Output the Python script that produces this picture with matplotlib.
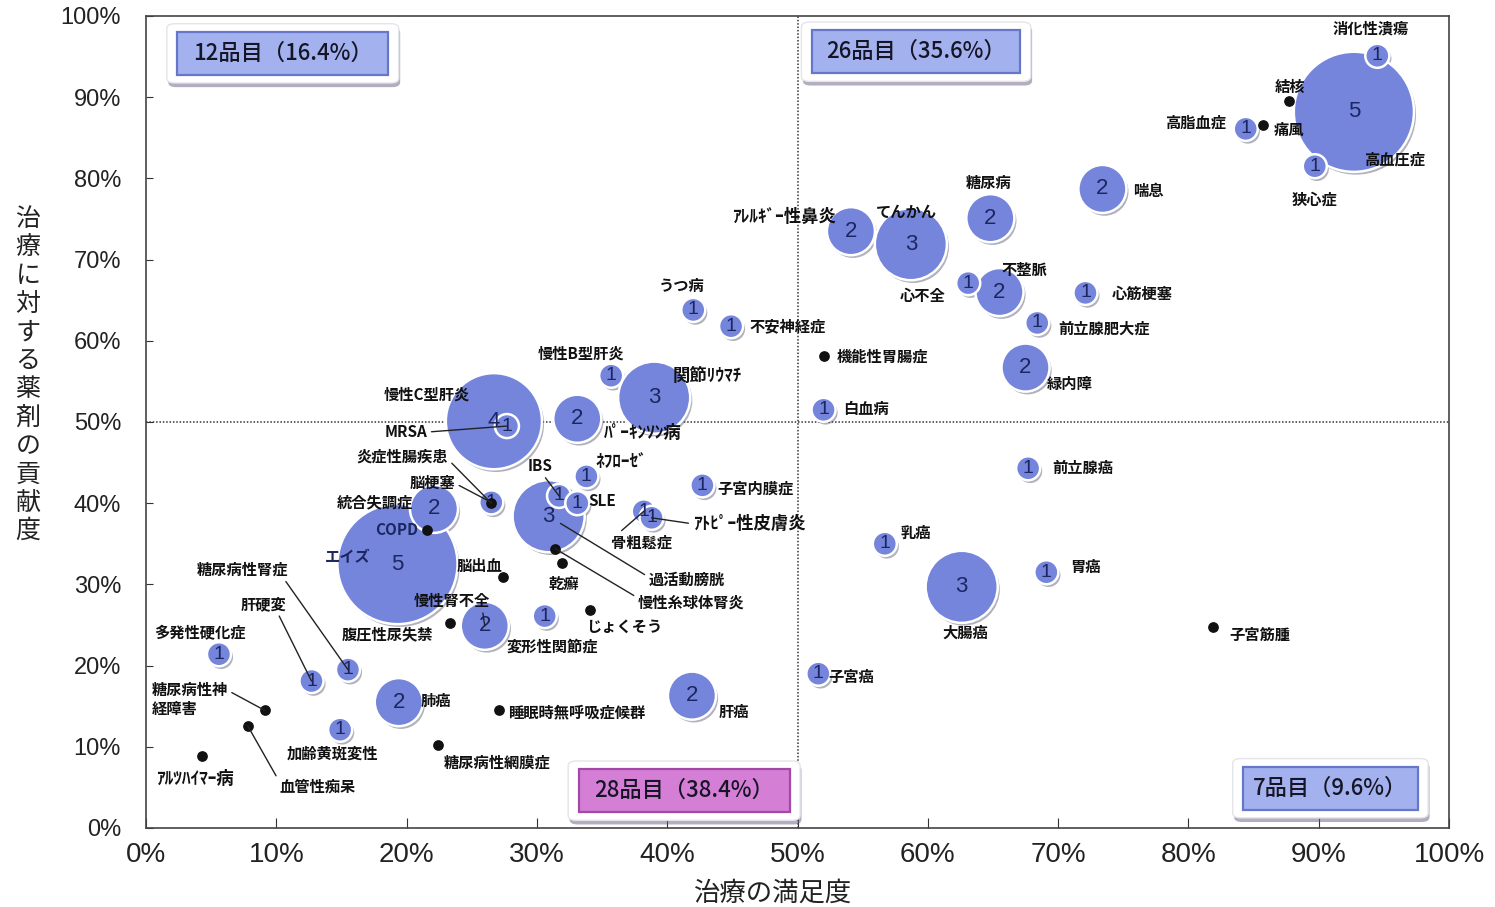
import matplotlib
matplotlib.use('Agg')
import matplotlib.pyplot as plt
import matplotlib.patheffects as pe
from matplotlib.patches import FancyBboxPatch

plt.rcParams['font.family'] = ['Noto Sans CJK JP', 'DejaVu Sans']

# ---------------- data ----------------
names = ['消化性潰瘍', '高血圧症', '結核', '高脂血症', '痛風', '狭心症', '喘息', '糖尿病',
         'ｱﾚﾙｷﾞｰ性鼻炎', 'てんかん', '心不全', '不整脈', '心筋梗塞', '前立腺肥大症',
         '機能性胃腸症', '緑内障', '白血病', 'うつ病', '不安神経症', '慢性B型肝炎',
         '関節ﾘｳﾏﾁ', 'ﾊﾟｰｷﾝｿﾝ病', '慢性C型肝炎', 'MRSA', '脳梗塞', '炎症性腸疾患',
         '統合失調症', 'COPD', 'エイズ', '脳出血', '慢性腎不全', '腹圧性尿失禁',
         '糖尿病性腎症', '肝硬変', '多発性硬化症', '糖尿病性神\n経障害', '血管性痴呆',
         'ｱﾙﾂﾊｲﾏｰ病', '肺癌', '加齢黄斑変性', '睡眠時無呼吸症候群', '糖尿病性網膜症',
         '肝癌', '変形性関節症', 'じょくそう', '乾癬', '慢性糸球体腎炎', '過活動膀胱',
         'IBS', 'SLE', 'ﾈﾌﾛｰｾﾞ', '骨粗鬆症', 'ｱﾄﾋﾟｰ性皮膚炎', '子宮内膜症',
         '前立腺癌', '乳癌', '胃癌', '大腸癌', '子宮筋腫', '子宮癌']

satisfaction = [94.5, 92.7, 87.7, 84.4, 85.7, 89.7, 73.4, 64.8,
                54.1, 58.7, 63.1, 65.5, 72.1, 68.4,
                52.0, 67.5, 52.0, 42.0, 44.9, 35.7,
                39.0, 33.1, 26.7, 27.7, 26.5, 26.5,
                22.1, 21.6, 19.3, 27.4, 26.0, 23.3,
                15.5, 12.7, 5.6, 9.1, 7.8,
                4.3, 19.4, 14.9, 27.1, 22.4,
                41.9, 30.6, 34.1, 31.9, 31.4, 30.9,
                31.7, 33.1, 33.8, 38.2, 38.8, 42.7,
                67.7, 56.7, 69.1, 62.6, 81.9, 51.6]

contribution = [95.1, 88.2, 89.5, 86.1, 86.6, 81.5, 78.7, 75.1,
                73.5, 71.9, 67.1, 66.0, 65.9, 62.2,
                58.1, 56.7, 51.5, 63.8, 61.8, 55.7,
                53.0, 50.4, 50.1, 49.5, 40.1, 40.0,
                39.3, 36.7, 32.5, 30.9, 24.9, 25.2,
                19.5, 18.1, 21.4, 14.5, 12.6,
                8.9, 15.5, 12.1, 14.5, 10.2,
                16.3, 26.1, 26.8, 32.6, 34.4, 38.4,
                40.9, 40.0, 43.3, 39.0, 38.2, 42.2,
                44.3, 35.0, 31.5, 29.7, 24.8, 19.0]

# number of drugs (0 = no drug, drawn as a black dot)
counts = [1, 5, 0, 1, 0, 1, 2, 2,
          2, 3, 1, 2, 1, 1,
          0, 2, 1, 1, 1, 1,
          3, 2, 4, 1, 1, 0,
          2, 0, 5, 0, 2, 0,
          1, 1, 1, 0, 0,
          0, 2, 1, 0, 0,
          2, 1, 0, 0, 0, 3,
          1, 1, 1, 1, 1, 1,
          1, 1, 1, 3, 0, 1]

quad_texts = ['12品目（16.4%）', '26品目（35.6%）', '28品目（38.4%）', '7品目（9.6%）']
x_ticks = [0, 10, 20, 30, 40, 50, 60, 70, 80, 90, 100]
y_ticks = [0, 10, 20, 30, 40, 50, 60, 70, 80, 90, 100]

# ---------------- layout (label placement in pixels) ----------------
# (dx, dy, ha, relpos for leader line or None, shrinkB)
label_layout = [
    (-7, 27, 'center', None, 0), (41, -48, 'center', None, 0), (1, 14, 'center', None, 0),
    (-20, 6, 'right', None, 0), (11, -5, 'left', None, 0), (0, -33, 'center', None, 0),
    (31, -2, 'left', None, 0), (-2, 35, 'center', None, 0),
    (-15, 14, 'right', None, 0), (-4, 32, 'center', None, 0), (-46, -13, 'center', None, 0),
    (25, 22, 'center', None, 0), (26, -1, 'left', None, 0), (21, -6, 'left', None, 0),
    (13, 0, 'left', None, 0), (21, -16, 'left', None, 0), (20, 1, 'left', None, 0),
    (-12, 24, 'center', None, 0), (18, 0, 'left', None, 0), (-30, 22, 'center', None, 0),
    (53, 22, 'center', None, 0), (65, -14, 'center', None, 0), (-67, 27, 'center', None, 0),
    (-101, -6, 'center', (1, 0.5), 0), (-59, 19, 'center', (1, 0.5), 0),
    (-89, 47, 'center', (1, 0.3), 0),
    (-59, 7, 'center', None, 0), (-31, 0, 'center', None, 0), (-50, 7, 'center', None, 0),
    (-24, 11, 'center', None, 0), (-33, 25, 'center', (0.9, 0), 0), (-62, -11, 'center', None, 0),
    (-106, 100, 'center', (0.95, 0), 0), (-48, 77, 'center', (0.8, 0), 0),
    (-19, 22, 'center', None, 0), (-113, 11, 'left', (1, 0.75), 0), (70, -61, 'center', (0, 0.8), 0),
    (-7, -23, 'center', None, 0), (22, 1, 'left', None, 0), (-8, -24, 'center', None, 0),
    (9, -2, 'left', None, 0), (59, -17, 'center', None, 0),
    (42, -16, 'center', None, 0), (8, -31, 'center', None, 0), (34, -16, 'center', None, 0),
    (2, -21, 'center', None, 0), (136, -54, 'center', (0, 0.8), 0), (138, -64, 'center', (0, 0.7), 10),
    (-19, 30, 'center', (0.6, 0), 0), (25, 2, 'center', None, 0), (35, 14, 'center', None, 0),
    (-2, -31, 'center', (0.1, 1), 0), (41, -6, 'left', (0, 0.5), 0), (15, -3, 'left', None, 0),
    (24, 0, 'left', None, 0), (16, 11, 'left', None, 0), (24, 5, 'left', None, 0),
    (4, -46, 'center', None, 0), (16, -8, 'left', None, 0), (10, -3, 'left', None, 0),
]

BUBBLE = '#7585dc'
NUM_COLOR = '#1c2660'

fig = plt.figure(figsize=(14.95, 9.07), dpi=100)
ax = fig.add_axes([146 / 1495, 79 / 907, 1303 / 1495, 812 / 907])
ax.set_xlim(0, 100)
ax.set_ylim(0, 100)

for s in ax.spines.values():
    s.set_color('#444444')
    s.set_linewidth(1.2)

# quadrant dividers
ax.axhline(50, color='#333333', lw=1.1, ls=(0, (1, 1.2)), zorder=1)
ax.axvline(50, color='#333333', lw=1.1, ls=(0, (1, 1.2)), zorder=1)

# bubbles (bigger first)
order = sorted(range(len(names)), key=lambda i: -counts[i])
bub = [i for i in order if counts[i] > 0]
shadow = [pe.SimplePatchShadow(offset=(1.5, -2), shadow_rgbFace='#555570', alpha=0.45), pe.Normal()]
ax.scatter([satisfaction[i] for i in bub], [contribution[i] for i in bub],
           s=[(17.3 * counts[i]) ** 2 for i in bub], c=BUBBLE, edgecolors='white',
           linewidths=1.8, zorder=3, path_effects=shadow)
for i in bub:
    ax.text(satisfaction[i], contribution[i], str(counts[i]), ha='center', va='center',
            fontsize=14 if counts[i] == 1 else 16, color=NUM_COLOR, zorder=4,
            family=['Liberation Sans', 'DejaVu Sans'])

dots = [i for i in range(len(names)) if counts[i] == 0]
ax.scatter([satisfaction[i] for i in dots], [contribution[i] for i in dots],
           s=45, c='#111111', zorder=5)


def has_halfwidth(t):
    return any('\uff61' <= ch <= '\uff9f' for ch in t)


# labels
for i, name in enumerate(names):
    dx, dy, ha, relpos, shrinkB = label_layout[i]
    color = NUM_COLOR if name in ('COPD', 'エイズ') else '#111111'
    fs = 12.5 if has_halfwidth(name) else 11
    kw = dict(xy=(satisfaction[i], contribution[i]), xytext=(dx, dy), textcoords='offset pixels',
              ha=ha, va='center', fontsize=fs, fontweight='bold', color=color, zorder=6,
              linespacing=1.25)
    if relpos is not None:
        kw['arrowprops'] = dict(arrowstyle='-', color='#222222', lw=1.0, relpos=relpos,
                                shrinkA=1, shrinkB=shrinkB)
    ax.annotate(name, **kw)

# quadrant count boxes
quad_centers = [(10.5, 95.4), (59.1, 95.6), (41.3, 4.6), (90.9, 4.9)]
quad_widths = [16.2, 16.0, 16.2, 13.4]
quad_fill = ['#a3b2ee', '#a3b2ee', '#d47ed6', '#a3b2ee']
quad_edge = ['#6676c8', '#6676c8', '#a448a8', '#6676c8']
for (cx, cy), w, fc, ec, t in zip(quad_centers, quad_widths, quad_fill, quad_edge, quad_texts):
    h = 5.3
    outer = FancyBboxPatch((cx - w / 2 - 0.8, cy - h / 2 - 1.0), w + 1.6, h + 2.0,
                           boxstyle='round,pad=0,rounding_size=0.6', fc='white', ec='#e4e4ea',
                           lw=1, zorder=7,
                           path_effects=[pe.SimplePatchShadow(offset=(1, -3), shadow_rgbFace='#6a5a80',
                                                              alpha=0.5), pe.Normal()])
    ax.add_patch(outer)
    inner = FancyBboxPatch((cx - w / 2, cy - h / 2), w, h, boxstyle='square,pad=0',
                           fc=fc, ec=ec, lw=1.6, zorder=8)
    ax.add_patch(inner)
    ax.text(cx, cy, t, ha='center', va='center', fontsize=16, fontweight='medium',
            color='#151525', zorder=9)

# ticks
ax.set_xticks(x_ticks)
ax.set_xticklabels([f'{v}%' for v in x_ticks],
                   family=['Liberation Sans Narrow', 'Liberation Sans', 'DejaVu Sans'], fontsize=20)
ax.set_yticks(y_ticks)
ax.set_yticklabels([f'{v}%' for v in y_ticks],
                   family=['Liberation Sans', 'DejaVu Sans'], fontsize=17)
ax.tick_params(axis='x', direction='in', length=7, pad=10, colors='#333333', labelcolor='#222222')
ax.tick_params(axis='y', direction='in', length=5, pad=18, colors='#333333', labelcolor='#222222')

fig.text(773 / 1495, 1 - 893 / 907, '治療の満足度', ha='center', va='center', fontsize=19,
         color='#222222')
fig.text(28 / 1495, 1 - 375 / 907, '\n'.join('治療に対する薬剤の貢献度'), ha='center', va='center',
         fontsize=18, linespacing=1.12, color='#222222')

fig.savefig('out.png', dpi=100)
